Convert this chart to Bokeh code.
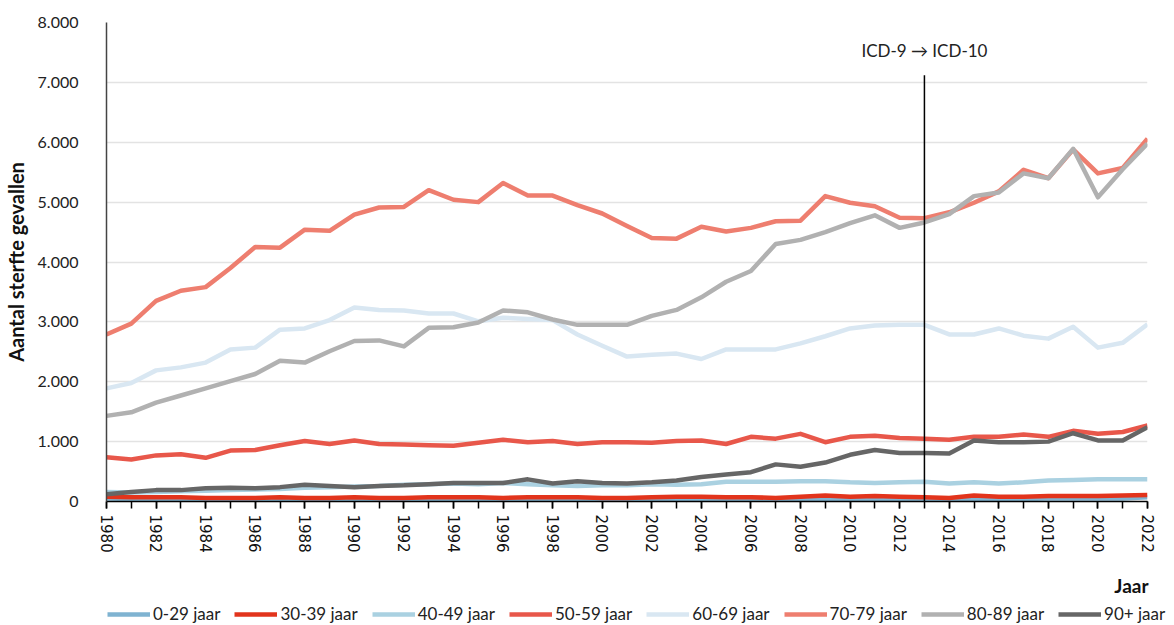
from bokeh.plotting import figure
from bokeh.layouts import column
from bokeh.models import FixedTicker, Legend, LegendItem, Label, Range1d
from bokeh.embed import file_html
from bokeh.resources import INLINE

years = list(range(1980, 2023))

age_0_29 = [50, 40, 40, 40, 40, 40, 40, 40, 40, 40, 40, 40, 40, 40, 40, 40, 40, 40, 40, 40,
            40, 40, 40, 40, 40, 40, 40, 40, 50, 40, 40, 40, 40, 40, 40, 50, 40, 40, 50, 50,
            50, 50, 70]
age_30_39 = [80, 70, 70, 70, 60, 60, 60, 70, 60, 60, 70, 60, 60, 70, 70, 70, 60, 70, 70, 70,
             60, 60, 70, 80, 80, 70, 70, 60, 80, 100, 80, 90, 80, 70, 60, 100, 80, 80, 90, 90,
             90, 100, 110]
age_40_49 = [160, 150, 160, 170, 180, 190, 200, 210, 230, 240, 250, 260, 280, 290, 300, 290,
             310, 290, 270, 260, 270, 270, 290, 280, 290, 330, 330, 330, 340, 340, 320, 310,
             320, 330, 300, 320, 300, 320, 350, 360, 370, 370, 370]
age_50_59 = [740, 700, 770, 790, 730, 850, 860, 940, 1010, 960, 1020, 960, 950, 940, 930, 980,
             1030, 990, 1010, 960, 990, 990, 980, 1010, 1020, 960, 1080, 1050, 1130, 990,
             1080, 1100, 1060, 1050, 1030, 1080, 1080, 1120, 1080, 1180, 1130, 1160, 1270]
age_60_69 = [1890, 1980, 2190, 2240, 2320, 2540, 2570, 2870, 2890, 3030, 3240, 3200, 3190,
             3140, 3140, 3010, 3070, 3050, 3030, 2790, 2600, 2420, 2450, 2470, 2380, 2540,
             2540, 2540, 2640, 2760, 2890, 2940, 2950, 2950, 2790, 2790, 2890, 2770, 2720,
             2920, 2570, 2650, 2960]
age_70_79 = [2790, 2970, 3350, 3520, 3580, 3900, 4250, 4240, 4540, 4520, 4790, 4910, 4920,
             5200, 5040, 5000, 5320, 5110, 5110, 4950, 4810, 4600, 4400, 4390, 4590, 4510,
             4570, 4680, 4690, 5100, 4990, 4930, 4740, 4730, 4830, 4990, 5180, 5540, 5400,
             5880, 5480, 5570, 6060]
age_80_89 = [1430, 1490, 1650, 1770, 1890, 2010, 2130, 2350, 2320, 2510, 2680, 2690, 2590,
             2900, 2910, 2990, 3190, 3160, 3040, 2950, 2950, 2950, 3100, 3200, 3410, 3670,
             3850, 4300, 4370, 4500, 4650, 4780, 4570, 4660, 4800, 5100, 5160, 5480, 5400,
             5890, 5080, 5550, 5980]
age_90_plus = [120, 160, 190, 190, 220, 230, 220, 240, 280, 260, 240, 260, 270, 290, 310, 310,
               310, 370, 300, 340, 310, 300, 320, 350, 410, 450, 490, 620, 580, 650, 780, 860,
               810, 810, 800, 1020, 990, 990, 1000, 1140, 1020, 1020, 1240]

series_names = ["0-29 jaar", "30-39 jaar", "40-49 jaar", "50-59 jaar",
                "60-69 jaar", "70-79 jaar", "80-89 jaar", "90+ jaar"]
series_values = [age_0_29, age_30_39, age_40_49, age_50_59,
                 age_60_69, age_70_79, age_80_89, age_90_plus]
series_colors = ["#7fb3d1", "#e2341c", "#aad1e1", "#e8574a",
                 "#d9e7f2", "#ee7e6f", "#b1b1b1", "#666666"]

y_ticks = [0, 1000, 2000, 3000, 4000, 5000, 6000, 7000, 8000]
y_tick_labels = ["0", "1.000", "2.000", "3.000", "4.000", "5.000", "6.000", "7.000", "8.000"]
x_ticks = list(range(1980, 2023, 2))

switch_year = 2013
switch_text = "ICD-9 \u2192 ICD-10"
x_title = "Jaar"

FONT = "Lato"

p = figure(width=1174, height=570, output_backend="svg", toolbar_location=None,
           x_range=Range1d(1980, 2022), y_range=Range1d(0, 8000),
           min_border_left=104, min_border_right=27, min_border_top=22, min_border_bottom=69)
p.frame_align = False
p.outline_line_color = None
p.background_fill_color = "white"

# grid
p.xgrid.grid_line_color = None
p.ygrid.grid_line_color = "#e3e3e3"
p.ygrid.grid_line_width = 1.5
p.ygrid.ticker = FixedTicker(ticks=y_ticks)

# y axis
p.yaxis.ticker = FixedTicker(ticks=y_ticks)
p.yaxis.major_label_overrides = {t: l for t, l in zip(y_ticks, y_tick_labels)}
p.yaxis.major_tick_line_color = None
p.yaxis.minor_tick_line_color = None
p.yaxis.major_label_standoff = 22
p.yaxis.major_label_text_font = FONT
p.yaxis.major_label_text_font_size = "16px"
p.yaxis.major_label_text_color = "#222222"
p.yaxis.axis_line_color = "#444444"
p.yaxis.axis_line_width = 1.5
p.yaxis.axis_label = "Aantal sterfte gevallen"
p.yaxis.axis_label_text_font = FONT
p.yaxis.axis_label_text_font_style = "bold"
p.yaxis.axis_label_text_font_size = "20px"
p.yaxis.axis_label_text_color = "#111111"
p.yaxis.axis_label_standoff = 7

# x axis
p.xaxis.ticker = FixedTicker(ticks=x_ticks, minor_ticks=years)
p.xaxis.major_label_orientation = "vertical"
p.xaxis.major_label_text_font = "DejaVu Sans"
p.xaxis.major_label_text_font_size = "15px"
p.xaxis.major_label_text_color = "#111111"
p.xaxis.axis_line_color = "black"
p.xaxis.axis_line_width = 1.5
p.xaxis.major_tick_in = 0
p.xaxis.major_tick_out = 7
p.xaxis.minor_tick_in = 0
p.xaxis.minor_tick_out = 7
p.xaxis.major_tick_line_color = "black"
p.xaxis.minor_tick_line_color = "black"
p.xaxis.major_tick_line_width = 1.5
p.xaxis.minor_tick_line_width = 1.5
p.xaxis.major_label_standoff = 6

for name, vals, col in zip(series_names, series_values, series_colors):
    p.line(years, vals, line_color=col, line_width=4.5, line_join="round")

# ICD switch line and text
p.segment(x0=[switch_year], y0=[-70], x1=[switch_year], y1=[7120],
          line_color="black", line_width=1.5)
p.text(x=[switch_year], y=[7530], text=[switch_text], text_align="center",
       text_baseline="middle", text_font_size="17px", text_color="#222222",
       text_font={"value": FONT})

# strip below the chart: x-axis title and legend (pixel-based ranges)
lg = figure(width=1174, height=55, output_backend="svg", toolbar_location=None,
            x_range=Range1d(0, 1174), y_range=Range1d(0, 55),
            min_border=0, min_border_left=0, min_border_right=0,
            min_border_top=0, min_border_bottom=0)
lg.frame_align = False
lg.axis.visible = False
lg.grid.visible = False
lg.outline_line_color = None

lg.add_layout(Label(x=1148, y=40, text=x_title, text_align="right", text_baseline="middle",
                    text_font=FONT, text_font_style="bold", text_font_size="19px",
                    text_color="#111111"))

items = []
for name, vals, col in zip(series_names, series_values, series_colors):
    # lines live outside the strip's visible range; only used as legend glyphs
    r = lg.line(years, vals, line_color=col, line_width=4.5)
    items.append(LegendItem(label=name, renderers=[r]))
legend = Legend(items=items, orientation="horizontal", location=(107, 1),
                label_text_font=FONT, label_text_font_size="17px",
                label_text_color="#222222", glyph_width=43, glyph_height=16,
                label_standoff=3, spacing=14, padding=1, margin=0,
                border_line_color=None, background_fill_alpha=0)
lg.add_layout(legend, "center")

open("out.html", "w").write(file_html(column(p, lg, spacing=0), INLINE))
